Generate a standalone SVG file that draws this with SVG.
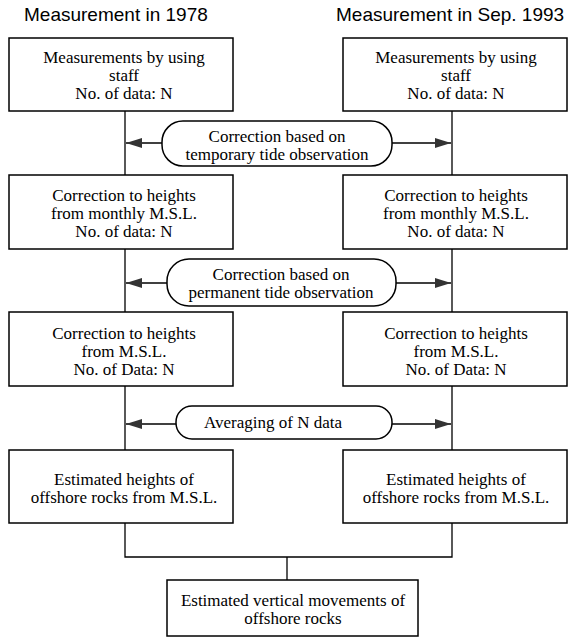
<svg xmlns="http://www.w3.org/2000/svg" width="569" height="638" viewBox="0 0 569 638">
<style>
.box{fill:#fff;stroke:#000;stroke-width:1.5}
.oval{fill:#fff;stroke:#000;stroke-width:1.5}
.ln{fill:none;stroke:#000;stroke-width:1.3}
.t{font-family:"Liberation Serif","Times New Roman",serif;font-size:17px;fill:#000;text-anchor:middle}
.h{font-family:"Liberation Sans",Arial,sans-serif;font-size:19px;fill:#000}
</style>
<defs>
<marker id="ah" viewBox="0 0 16 10" refX="16" refY="5" markerWidth="16" markerHeight="10" markerUnits="userSpaceOnUse" orient="auto">
<path d="M0,0 L16,5 L0,10 Z" fill="#333"/>
</marker>
</defs>
<rect width="569" height="638" fill="#fff"/>
<g id="headers">
<text class="h" x="24" y="21">Measurement in 1978</text>
<text class="h" x="336" y="21">Measurement in Sep. 1993</text>
</g>
<g id="connectors">
<path class="ln" d="M125,111 V557 H452 V111"/>
<path class="ln" d="M287,557 V580"/>
<path class="ln" d="M162,143 H126" marker-end="url(#ah)"/>
<path class="ln" d="M392,143 H451" marker-end="url(#ah)"/>
<path class="ln" d="M167,283 H126" marker-end="url(#ah)"/>
<path class="ln" d="M396,283 H451" marker-end="url(#ah)"/>
<path class="ln" d="M176,424 H126" marker-end="url(#ah)"/>
<path class="ln" d="M392,424 H451" marker-end="url(#ah)"/>
</g>
<g id="L1"><rect class="box" x="9" y="38" width="224" height="73"/>
<text class="t" x="124" y="63">Measurements by using</text><text class="t" x="124" y="81">staff</text><text class="t" x="124" y="99">No. of data: N</text></g>
<g id="R1"><rect class="box" x="343" y="38" width="224" height="73"/>
<text class="t" x="456" y="63">Measurements by using</text><text class="t" x="456" y="81">staff</text><text class="t" x="456" y="99">No. of data: N</text></g>
<g id="O1"><rect class="oval" x="162" y="121" width="230" height="45" rx="21" ry="21"/>
<text class="t" x="277" y="142">Correction based on</text><text class="t" x="277" y="160">temporary tide observation</text></g>
<g id="L2"><rect class="box" x="9" y="175" width="224" height="74"/>
<text class="t" x="124" y="201">Correction to heights</text><text class="t" x="124" y="219">from monthly M.S.L.</text><text class="t" x="124" y="237">No. of data: N</text></g>
<g id="R2"><rect class="box" x="343" y="175" width="224" height="74"/>
<text class="t" x="456" y="201">Correction to heights</text><text class="t" x="456" y="219">from monthly M.S.L.</text><text class="t" x="456" y="237">No. of data: N</text></g>
<g id="O2"><rect class="oval" x="167" y="259" width="229" height="47" rx="22" ry="22"/>
<text class="t" x="281" y="280">Correction based on</text><text class="t" x="281" y="298">permanent tide observation</text></g>
<g id="L3"><rect class="box" x="9" y="312" width="224" height="74"/>
<text class="t" x="124" y="339">Correction to heights</text><text class="t" x="124" y="357">from M.S.L.</text><text class="t" x="124" y="375">No. of Data: N</text></g>
<g id="R3"><rect class="box" x="343" y="312" width="224" height="74"/>
<text class="t" x="456" y="339">Correction to heights</text><text class="t" x="456" y="357">from M.S.L.</text><text class="t" x="456" y="375">No. of Data: N</text></g>
<g id="O3"><rect class="oval" x="176" y="406" width="216" height="33" rx="16" ry="16"/>
<text class="t" x="273" y="428">Averaging of N data</text></g>
<g id="L4"><rect class="box" x="9" y="450" width="224" height="73"/>
<text class="t" x="124" y="485">Estimated heights of</text><text class="t" x="124" y="503">offshore rocks from M.S.L.</text></g>
<g id="R4"><rect class="box" x="343" y="450" width="224" height="73"/>
<text class="t" x="456" y="485">Estimated heights of</text><text class="t" x="456" y="503">offshore rocks from M.S.L.</text></g>
<g id="B"><rect class="box" x="167" y="580" width="251" height="56"/>
<text class="t" x="293" y="606">Estimated vertical movements of</text><text class="t" x="293" y="624">offshore rocks</text></g>
</svg>
